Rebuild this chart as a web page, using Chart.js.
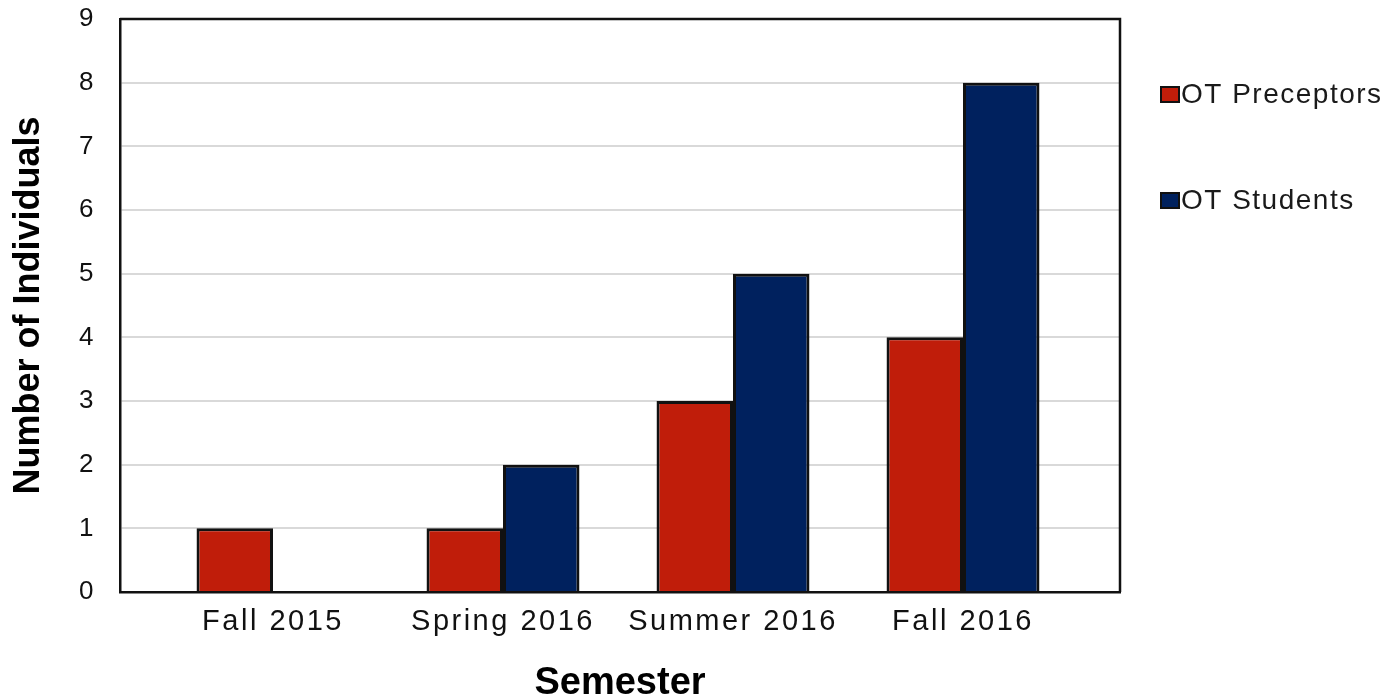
<!DOCTYPE html>
<html>
<head>
<meta charset="utf-8">
<script src="https://cdn.jsdelivr.net/npm/chart.js@4.4.1/dist/chart.umd.min.js"></script>
<style>
  html, body { margin: 0; padding: 0; background: #fff; }
  #wrap { width: 1390px; height: 700px; }
</style>
</head>
<body>
<div id="wrap"><canvas id="c" width="1390" height="700"></canvas></div>
<script>
// Semesters along the x axis and head counts per group
const semesters = ['Fall 2015', 'Spring 2016', 'Summer 2016', 'Fall 2016'];
const preceptors = [1, 1, 3, 4];
const students = [0, 2, 5, 8];
const seriesNames = ['OT Preceptors', 'OT Students'];
const seriesColors = ['#c01d0a', '#00215e'];
const yMax = 9;

const FONT = "'Liberation Sans', Arial, Helvetica, sans-serif";

// Background, outer frame (top/right) and the side legend
const decor = {
  id: 'decor',
  beforeDraw(chart) {
    const ctx = chart.ctx;
    ctx.save();
    ctx.fillStyle = '#fff';
    ctx.fillRect(0, 0, chart.width, chart.height);
    ctx.restore();
    ctx.letterSpacing = '0px';
  },
  afterDatasetsDraw(chart) {
    // tick labels are drawn after the bars; give them a wider spacing
    chart.ctx.letterSpacing = '2.5px';
  },
  afterDraw(chart) {
    const { ctx, chartArea: a } = chart;
    ctx.save();
    ctx.letterSpacing = '0px';
    ctx.strokeStyle = '#111';
    ctx.lineWidth = 2.5;
    ctx.beginPath();
    ctx.moveTo(a.left, a.top);
    ctx.lineTo(a.right, a.top);
    ctx.lineTo(a.right, a.bottom);
    ctx.stroke();

    ctx.letterSpacing = '1.5px';
    ctx.font = '28px ' + FONT;
    ctx.textBaseline = 'middle';
    ctx.textAlign = 'left';
    const lx = a.right + 41;
    chart.data.datasets.forEach((ds, i) => {
      const y = 94 + i * 106;
      ctx.fillStyle = ds.backgroundColor;
      ctx.fillRect(lx, y - 7, 18, 15);
      ctx.lineWidth = 2;
      ctx.strokeStyle = '#111';
      ctx.strokeRect(lx, y - 7, 18, 15);
      ctx.fillStyle = '#1a1a1a';
      ctx.fillText(ds.label, lx + 20, y + 1);
    });
    ctx.restore();
    ctx.letterSpacing = '0px';
  }
};

const toPoints = (vals) => vals.map((v, i) => ({ x: i, y: v }));

new Chart(document.getElementById('c'), {
  type: 'bar',
  data: {
    datasets: [
      {
        label: seriesNames[0],
        data: toPoints(preceptors),
        backgroundColor: seriesColors[0],
        borderColor: '#111',
        borderWidth: 3,
        borderSkipped: 'bottom'
      },
      {
        label: seriesNames[1],
        data: toPoints(students),
        backgroundColor: seriesColors[1],
        borderColor: '#111',
        borderWidth: 3,
        borderSkipped: 'bottom'
      }
    ]
  },
  options: {
    responsive: false,
    animation: false,
    devicePixelRatio: 1,
    categoryPercentage: 0.665,
    barPercentage: 1,
    layout: { padding: { top: 19, right: 270, bottom: 0, left: 0 } },
    plugins: {
      legend: { display: false },
      tooltip: { enabled: false },
      title: { display: false }
    },
    scales: {
      x: {
        type: 'linear',
        min: -0.6652,
        max: 3.6826,
        offset: false,
        grid: { display: false, drawTicks: false, offset: false },
        border: { display: true, color: '#111', width: 2.5 },
        ticks: {
          z: 1,
          stepSize: 1,
          includeBounds: false,
          autoSkip: false,
          maxRotation: 0,
          padding: 13,
          color: '#111',
          font: { family: FONT, size: 29 },
          callback: (v) => (Number.isInteger(v) && semesters[v] !== undefined ? semesters[v] : '')
        },
        title: {
          display: true,
          text: 'Semester',
          color: '#000',
          font: { family: FONT, size: 38, weight: 'bold', lineHeight: 0.85 },
          padding: { top: 0, bottom: 0 }
        },
        afterFit: (scale) => {
          scale.height = 108;
          scale.paddingLeft = 0;
          scale.paddingRight = 0;
        }
      },
      y: {
        min: 0,
        max: yMax,
        grid: { color: '#d9d9d9', lineWidth: 2, drawTicks: false },
        border: { display: true, color: '#111', width: 2.5 },
        ticks: {
          z: 1,
          stepSize: 1,
          padding: 24,
          color: '#111',
          font: { family: FONT, size: 26 }
        },
        title: {
          display: true,
          text: 'Number of Individuals',
          color: '#000',
          font: { family: FONT, size: 36, weight: 'bold' },
          padding: { top: 7, bottom: 0 }
        },
        afterFit: (scale) => {
          scale.width = 120;
          scale.paddingTop = 0;
          scale.paddingBottom = 0;
        }
      }
    }
  },
  plugins: [decor]
});
</script>
</body>
</html>
